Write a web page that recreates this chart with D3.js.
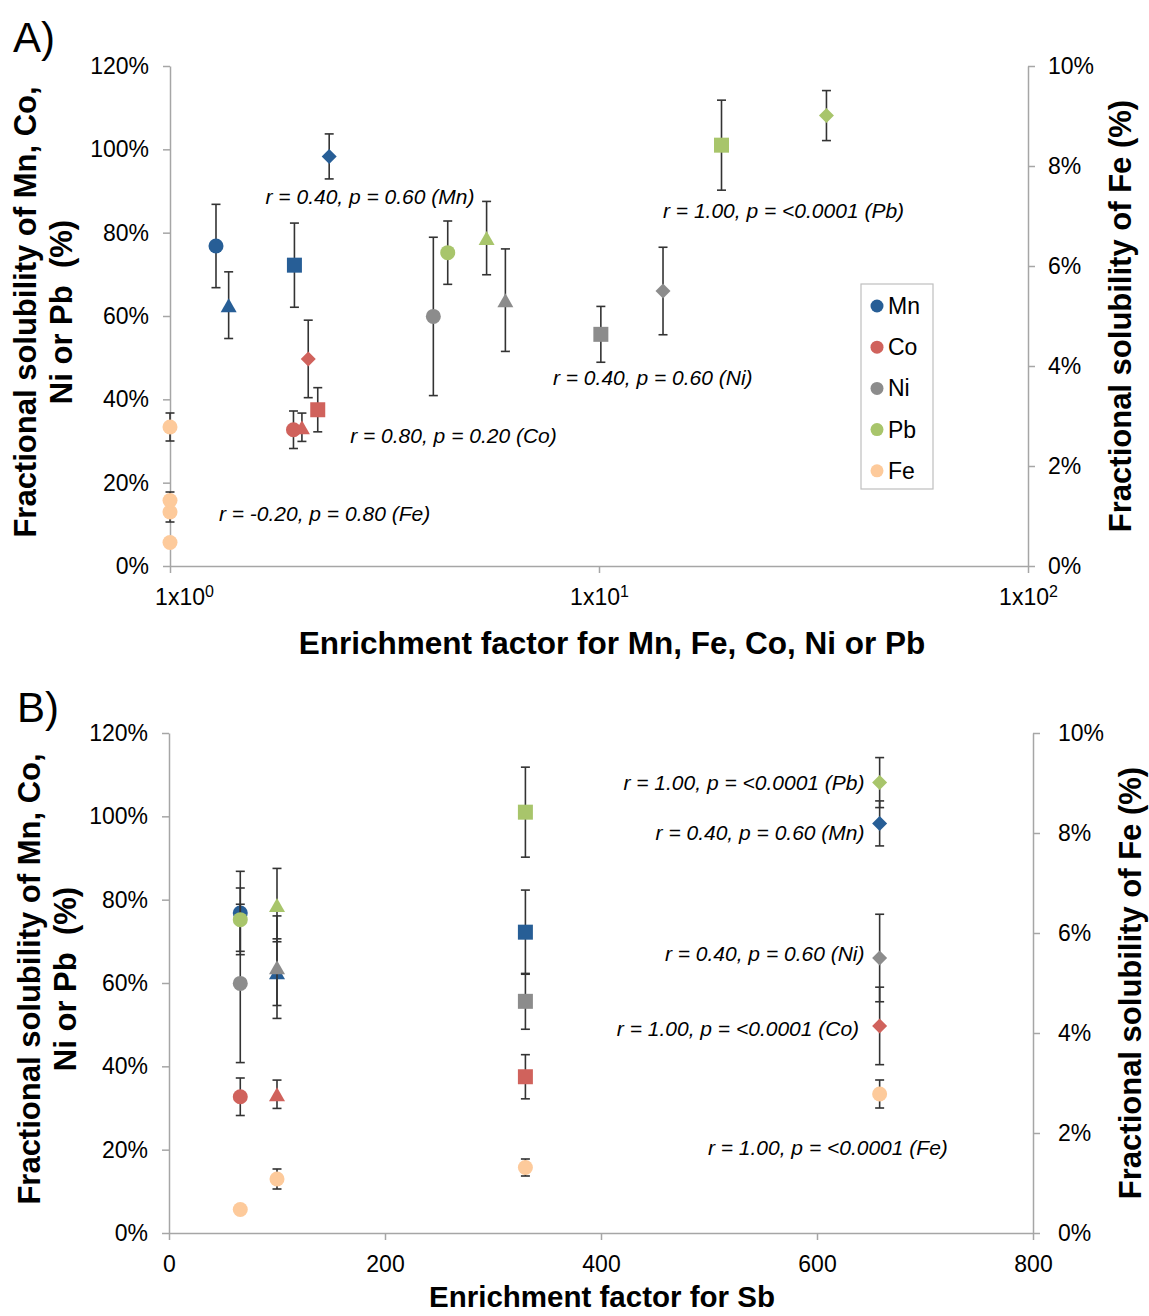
<!DOCTYPE html>
<html>
<head>
<meta charset="utf-8">
<script src="https://cdn.jsdelivr.net/npm/d3@7"></script>
<style>
  body { margin: 0; background: #fff; }
  text { font-family: "Liberation Sans", Arial, sans-serif; }
</style>
</head>
<body>
<svg id="chart" width="1149" height="1316"></svg>
<script>
// element names + colours (legend order)
var elements = ["Mn", "Co", "Ni", "Pb", "Fe"];
var colors = ["#275e96", "#d0625c", "#8c8c8c", "#a8c56b", "#fdca9b"];

// 4 samples -> marker shape of each sample
var sampleShapes = ["circle", "triangle", "square", "diamond"];

// enrichment factor for Sb of each sample (panel B x)
var sbEF = [66, 100, 330, 658];

// enrichment factor, fractional solubility (%) and error (%) per element
var mnEF = [1.28, 1.37, 1.95, 2.35];
var mnSol = [76.8, 62.6, 72.2, 98.3];
var mnErr = [10.0, 8.0, 10.1, 5.4];

var coEF = [1.94, 2.03, 2.21, 2.10];
var coSol = [32.7, 33.3, 37.5, 49.7];
var coErr = [4.5, 3.4, 5.3, 9.3];

var niEF = [4.11, 6.05, 10.1, 14.1];
var niSol = [59.9, 63.8, 55.6, 66.0];
var niErr = [19.0, 12.3, 6.7, 10.5];

var pbEF = [4.44, 5.47, 19.3, 33.9];
var pbSol = [75.2, 78.7, 101.0, 108.1];
var pbErr = [7.6, 8.8, 10.8, 6.0];

// Fe is the reference element (EF = 1), plotted on the secondary axis (0-10 %)
var feEF = [1, 1, 1, 1];
var feSol = [0.47, 1.08, 1.31, 2.78];
var feErr = [0.03, 0.20, 0.17, 0.28];

// tick values
var leftTicks = [0, 20, 40, 60, 80, 100, 120];
var rightTicks = [0, 2, 4, 6, 8, 10];
var logTicks = [1, 10, 100];
var sbTicks = [0, 200, 400, 600, 800];

var series = [
  { name: "Mn", ef: mnEF, sol: mnSol, err: mnErr, shapes: sampleShapes },
  { name: "Co", ef: coEF, sol: coSol, err: coErr, shapes: sampleShapes },
  { name: "Ni", ef: niEF, sol: niSol, err: niErr, shapes: sampleShapes },
  { name: "Pb", ef: pbEF, sol: pbSol, err: pbErr, shapes: sampleShapes },
  { name: "Fe", ef: feEF, sol: feSol, err: feErr, shapes: ["circle", "circle", "circle", "circle"], secondary: true }
];
series.forEach(function(s, i) { s.color = colors[i]; });

var svg = d3.select("#chart");
svg.append("rect").attr("width", 1149).attr("height", 1316).attr("fill", "#fff");

var axisColor = "#a6a6a6";

function markerPath(shape) {
  if (shape === "circle") return d3.symbol().type(d3.symbolCircle).size(Math.PI * 7.5 * 7.5)();
  if (shape === "square") return "M-7.5,-7.5H7.5V7.5H-7.5Z";
  if (shape === "triangle") return "M0,-7L8,7H-8Z";
  return "M0,-7.5L7.5,0L0,7.5L-7.5,0Z";
}

function styleAxis(g, size) {
  g.selectAll("path, line").attr("stroke", axisColor).attr("stroke-width", 1.5);
  g.selectAll("text").attr("fill", "#000").style("font-size", size + "px");
}

function drawPanel(p) {
  var y = d3.scaleLinear().domain([0, 120]).range([p.bottom, p.top]);
  var y2 = d3.scaleLinear().domain([0, 10]).range([p.bottom, p.top]);
  var x = p.x;

  // axes
  var gl = svg.append("g")
      .attr("transform", "translate(" + p.left + ",0)")
      .call(d3.axisLeft(y).tickValues(leftTicks).tickSize(7).tickSizeOuter(0).tickPadding(14)
        .tickFormat(function(d) { return d + "%"; }));
  styleAxis(gl, 23);

  var gr = svg.append("g")
      .attr("transform", "translate(" + p.right + ",0)")
      .call(d3.axisRight(y2).tickValues(rightTicks).tickSize(7).tickSizeOuter(0).tickPadding(p.rightPad)
        .tickFormat(function(d) { return d + "%"; }));
  styleAxis(gr, 23);

  var gb = svg.append("g")
      .attr("transform", "translate(0," + p.bottom + ")")
      .call(d3.axisBottom(x).tickValues(p.xTicks).tickSize(7).tickSizeOuter(0).tickPadding(p.bottomPad)
        .tickFormat(p.log ? function() { return ""; } : d3.format("d")));
  styleAxis(gb, 23);

  if (p.log) {
    gb.selectAll(".tick text").each(function(d, i) {
      var t = d3.select(this);
      if (i === 0) t.attr("x", 14);   // first label sits right of its tick
      t.append("tspan").text("1x10");
      t.append("tspan").attr("dy", "-0.55em").style("font-size", "16px").text(Math.round(Math.log10(d)));
    });
  }

  // error bars then markers, series by series
  series.forEach(function(s) {
    var ys = s.secondary ? y2 : y;
    var pts = s.sol.map(function(v, j) {
      return { x: x(p.xOf(s, j)), y: ys(v), lo: ys(v - s.err[j]), hi: ys(v + s.err[j]), shape: s.shapes[j] };
    });
    var g = svg.append("g");
    var eb = g.selectAll(".eb").data(pts).enter().append("g")
        .attr("stroke", "#333").attr("stroke-width", 1.6);
    eb.append("line").attr("x1", d => d.x).attr("x2", d => d.x).attr("y1", d => d.lo).attr("y2", d => d.hi);
    eb.append("line").attr("x1", d => d.x - 4.5).attr("x2", d => d.x + 4.5).attr("y1", d => d.lo).attr("y2", d => d.lo);
    eb.append("line").attr("x1", d => d.x - 4.5).attr("x2", d => d.x + 4.5).attr("y1", d => d.hi).attr("y2", d => d.hi);

    g.selectAll(".mk").data(pts).enter().append("path")
        .attr("d", d => markerPath(d.shape))
        .attr("transform", d => "translate(" + d.x + "," + d.y + ")")
        .attr("fill", s.color);
  });

  // correlation notes
  p.notes.forEach(function(n) {
    svg.append("text")
        .attr("x", x(n.x)).attr("y", y(n.y))
        .attr("text-anchor", n.a)
        .style("font-size", "21px").style("font-style", "italic")
        .text(n.t);
  });

  // titles
  svg.append("text").attr("x", p.labelX).attr("y", p.labelY).style("font-size", "42px").text(p.label);

  var yt = svg.append("text")
      .attr("transform", "translate(" + p.yTitleX + "," + ((p.top + p.bottom) / 2 - 4) + ") rotate(-90)")
      .attr("text-anchor", "middle").style("font-size", "31px").style("font-weight", "bold");
  yt.append("tspan").attr("x", 0).attr("dy", 0).text("Fractional solubility of Mn, Co,");
  yt.append("tspan").attr("x", 0).attr("dy", 36).attr("xml:space", "preserve").text("Ni or Pb \u00a0(%)");

  svg.append("text")
      .attr("transform", "translate(" + p.y2TitleX + "," + ((p.top + p.bottom) / 2) + ") rotate(-90)")
      .attr("text-anchor", "middle").style("font-size", "31px").style("font-weight", "bold")
      .text("Fractional solubility of Fe (%)");

  svg.append("text")
      .attr("x", p.xTitleCx).attr("y", p.xTitleY)
      .attr("text-anchor", "middle").style("font-size", p.xTitleSize + "px").style("font-weight", "bold")
      .text(p.xTitle);
}

// Panel A: log enrichment factor of each element
var xA = d3.scaleLog().domain([1, 100]).range([170, 1028]);
drawPanel({
  x: xA, log: true, left: 170, right: 1028, top: 66, bottom: 566,
  xTicks: logTicks, rightPad: 13, bottomPad: 16,
  xOf: function(s, j) { return s.ef[j]; },
  label: "A)", labelX: 13, labelY: 52,
  yTitleX: 36, y2TitleX: 1131,
  xTitle: "Enrichment factor for Mn, Fe, Co, Ni or Pb", xTitleCx: 612, xTitleY: 654, xTitleSize: 31.5,
  notes: [
    { t: "r = 0.40, p = 0.60 (Mn)", x: 1.67, y: 86.9, a: "start" },
    { t: "r = 1.00, p = <0.0001 (Pb)", x: 14.1, y: 83.5, a: "start" },
    { t: "r = 0.40, p = 0.60 (Ni)", x: 7.81, y: 43.4, a: "start" },
    { t: "r = 0.80, p = 0.20 (Co)", x: 2.63, y: 29.5, a: "start" },
    { t: "r = -0.20, p = 0.80 (Fe)", x: 1.30, y: 10.8, a: "start" }
  ]
});

// Panel B: enrichment factor for Sb of each sample
var xB = d3.scaleLinear().domain([0, 800]).range([169, 1033]);
drawPanel({
  x: xB, log: false, left: 169, right: 1033, top: 733, bottom: 1233,
  xTicks: sbTicks, rightPad: 18, bottomPad: 16,
  xOf: function(s, j) { return sbEF[j]; },
  label: "B)", labelX: 17, labelY: 722,
  yTitleX: 40, y2TitleX: 1141,
  xTitle: "Enrichment factor for Sb", xTitleCx: 602, xTitleY: 1307, xTitleSize: 29.5,
  notes: [
    { t: "r = 1.00, p = <0.0001 (Pb)", x: 644, y: 106.3, a: "end" },
    { t: "r = 0.40, p = 0.60 (Mn)", x: 644, y: 94.3, a: "end" },
    { t: "r = 0.40, p = 0.60 (Ni)", x: 644, y: 65.3, a: "end" },
    { t: "r = 1.00, p = <0.0001 (Co)", x: 639, y: 47.3, a: "end" },
    { t: "r = 1.00, p = <0.0001 (Fe)", x: 499, y: 18.7, a: "start" }
  ]
});

// legend (panel A)
var legend = svg.append("g").attr("transform", "translate(861,284)");
legend.append("rect").attr("width", 72).attr("height", 205)
    .attr("fill", "#fff").attr("stroke", "#bfbfbf").attr("stroke-width", 1.2);
var li = legend.selectAll(".li").data(series).enter().append("g")
    .attr("transform", function(d, i) { return "translate(0," + (22 + i * 41.2) + ")"; });
li.append("circle").attr("cx", 16).attr("cy", 0).attr("r", 6.5).attr("fill", d => d.color);
li.append("text").attr("x", 27).attr("y", 8).style("font-size", "23px").text(d => d.name);
</script>
</body>
</html>
